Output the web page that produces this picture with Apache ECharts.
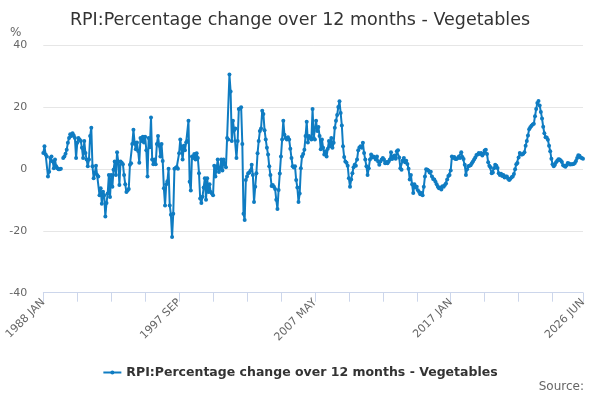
<!DOCTYPE html>
<html>
<head>
    <meta charset="utf-8">
    <title>RPI Vegetables</title>
    <script src="https://cdn.jsdelivr.net/npm/echarts/dist/echarts.min.js"></script>
</head>
<body style="margin:0">
    <div id="chart" style="width: 600px; height: 400px;"></div>

    <script type="text/javascript">
        // monthly values, 1988 JAN .. 2026 JUN
        var y1988 = [5.1, 7.3, 4.6, 4.0, -2.5, -0.9, 3.5, 4.0, 2.4, 0.2, 3.0, 0.8];
        var y1989 = [0.2, -0.1, -0.1, 0.0, null, 3.5, 4.0, 4.9, 6.2, 8.4, 10.0, 11.2];
        var y1990 = [10.6, 11.5, 10.8, 10.0, 3.5, 8.4, 10.0, 9.5, 9.0, 6.8, 3.5, 9.0];
        var y1991 = [5.1, 3.0, 0.8, 3.0, 10.6, 13.3, 0.8, -3.0, -1.4, 1.0, -2.0, -2.5];
        var y1992 = [-8.5, -6.3, -11.3, -7.4, -8.5, -15.4, -11.0, -8.0, -2.0, -9.1, -2.0, -5.8];
        var y1993 = [-0.3, 2.4, -2.0, 5.4, 2.4, -5.2, 2.4, 2.0, 1.5, -2.0, -5.0, -7.5];
        var y1994 = [-7.0, -6.5, 1.3, 1.8, 8.0, 12.6, 8.4, 6.3, 8.5, 5.8, 2.0, 10.0];
        var y1995 = [9.0, 10.4, 8.5, 10.4, 6.0, -2.5, 10.0, 7.0, 16.6, 3.0, 1.5, 3.0];
        var y1996 = [1.5, 8.0, 10.6, 7.5, 4.0, 8.0, 2.5, -6.3, -11.8, -5.0, -4.0, 0.0];
        var y1997 = [-11.8, -14.8, -22.0, -14.5, 0.0, 0.3, 0.6, 0.0, 5.0, 9.5, 6.5, 3.0];
        var y1998 = [7.5, 6.0, 8.5, 9.0, 15.5, -4.2, -7.0, 4.0, 3.5, 4.8, 3.0, 5.0];
        var y1999 = [3.5, -1.4, -9.6, -11.0, -9.0, -6.0, -3.0, -10.0, -3.0, -7.5, -5.0, -7.5];
        var y2000 = [-8.0, -8.5, 1.0, -2.5, 0.0, 3.0, -1.0, 0.0, 3.0, -0.5, 3.0, 1.5];
        var y2001 = [0.5, 10.0, 9.5, 30.5, 25.0, 9.0, 15.5, 12.5, 13.0, 3.5, 9.0, 19.3];
        var y2002 = [19.5, 19.9, 8.0, -14.5, -16.5, -3.6, -2.5, -1.4, -1.2, -0.5, 1.3, -2.0];
        var y2003 = [-10.7, -5.8, -1.4, 5.0, 9.0, 12.2, 13.0, 18.8, 17.7, 12.5, 9.5, 6.8];
        var y2004 = [4.6, 0.8, -2.0, -5.5, -5.2, -5.8, -6.5, -10.0, -13.0, -6.8, -1.5, 4.0];
        var y2005 = [9.5, 15.5, 11.0, 10.0, 9.5, 10.2, 9.5, 6.5, 3.5, 0.8, 0.4, 0.8];
        var y2006 = [-3.6, -6.0, -10.7, -8.0, 0.2, 4.0, 4.8, 6.2, 10.6, 15.2, 8.5, 10.6];
        var y2007 = [10.0, 9.5, 19.3, 10.0, 9.5, 15.5, 12.2, 13.5, 10.6, 6.3, 9.5, 6.8];
        var y2008 = [4.6, 5.7, 4.0, 6.5, 9.0, 7.3, 10.0, 6.8, 8.4, 13.3, 15.5, 17.4];
        var y2009 = [20.0, 21.8, 18.0, 14.0, 7.3, 3.8, 2.4, 2.0, 1.0, -3.0, -5.8, -3.4];
        var y2010 = [-1.4, 0.5, 1.3, 1.0, 3.0, 6.0, 6.9, 7.3, 6.8, 8.4, 5.1, 3.0];
        var y2011 = [0.8, -2.0, 0.2, 3.0, 4.6, 3.7, 4.0, 3.7, 3.0, 4.0, 2.4, 1.3];
        var y2012 = [2.4, 3.0, 3.5, 3.0, 1.8, 2.2, 1.8, 2.4, 3.0, 5.4, 3.2, 4.0];
        var y2013 = [4.3, 3.3, 5.7, 6.0, 3.7, 0.2, -0.3, 2.7, 3.5, 2.1, 2.6, 1.6];
        var y2014 = [0.0, -3.4, -2.0, -5.0, -7.8, -5.0, -6.0, -5.8, -6.9, -7.5, -8.2, -7.8];
        var y2015 = [-8.5, -5.8, -2.5, -0.1, -0.3, -0.5, -1.2, -0.9, -2.5, -3.3, -3.4, -4.2];
        var y2016 = [-5.0, -5.8, -6.3, -6.0, -6.7, -5.6, -5.8, -5.2, -4.7, -3.4, -2.3, -2.0];
        var y2017 = [-0.5, 4.0, 3.5, 3.8, 3.2, 3.2, 3.5, 4.0, 3.5, 5.4, 3.8, 3.2];
        var y2018 = [1.3, -2.0, -0.1, 0.8, 1.0, 1.2, 1.8, 2.4, 3.0, 3.7, 4.5, 4.6];
        var y2019 = [5.1, 4.8, 5.1, 4.3, 4.9, 5.9, 6.2, 4.8, 2.1, 1.0, 0.5, -1.4];
        var y2020 = [-1.2, 0.2, 1.3, 1.0, 0.3, -1.4, -2.0, -1.6, -2.3, -2.0, -2.8, -2.5];
        var y2021 = [-2.5, -3.2, -3.6, -3.2, -2.7, -2.5, -1.7, -0.1, 1.5, 1.9, 3.7, 5.1];
        var y2022 = [4.6, 4.6, 4.9, 5.4, 7.5, 9.0, 10.8, 12.8, 13.4, 13.9, 14.3, 14.6];
        var y2023 = [17.0, 19.3, 21.3, 21.9, 20.5, 18.4, 16.3, 13.6, 11.5, 10.2, 10.1, 9.4];
        var y2024 = [7.5, 5.7, 3.3, 1.5, 0.8, 1.3, 2.1, 2.6, 3.1, 3.0, 2.7, 2.2];
        var y2025 = [1.2, 0.9, 0.7, 1.2, 1.9, 1.7, 1.4, 1.5, 1.5, 1.6, 1.9, 2.5];
        var y2026 = [3.5, 4.4, 4.2, 3.7, 3.5, 3.3];

        var monthNames = ['JAN', 'FEB', 'MAR', 'APR', 'MAY', 'JUN', 'JUL', 'AUG', 'SEP', 'OCT', 'NOV', 'DEC'];
        var seriesName = 'RPI:Percentage change over 12 months - Vegetables';

        var values = [].concat(y1988, y1989, y1990, y1991, y1992, y1993, y1994, y1995, y1996, y1997,
            y1998, y1999, y2000, y2001, y2002, y2003, y2004, y2005, y2006, y2007,
            y2008, y2009, y2010, y2011, y2012, y2013, y2014, y2015, y2016, y2017,
            y2018, y2019, y2020, y2021, y2022, y2023, y2024, y2025, y2026);

        // category labels "1988 JAN" ...
        var months = [];
        for (var i = 0; i < values.length; i++) {
            months.push((1988 + Math.floor(i / 12)) + ' ' + monthNames[i % 12]);
        }
        var last = months.length - 1;

        var chart = echarts.init(document.getElementById('chart'));

        var option = {
            textStyle: { fontFamily: 'DejaVu Sans' },
            title: [
                {
                    text: seriesName,
                    left: 'center',
                    top: 6,
                    textStyle: { fontSize: 17.5, fontWeight: 'normal', color: '#333', fontFamily: 'DejaVu Sans' }
                },
                {
                    text: 'Source:',
                    right: 11,
                    bottom: 2,
                    textStyle: { fontSize: 12, fontWeight: 'normal', color: '#666', fontFamily: 'DejaVu Sans' }
                }
            ],
            legend: {
                data: [seriesName],
                bottom: 16,
                left: 'center',
                itemWidth: 18,
                itemHeight: 5,
                textStyle: { fontSize: 12.5, fontWeight: 'bold', color: '#333', fontFamily: 'DejaVu Sans' }
            },
            grid: { left: 43.3, right: 17, top: 45, bottom: 107.3 },
            xAxis: {
                type: 'category',
                data: months,
                boundaryGap: false,
                axisLine: { onZero: false, lineStyle: { color: '#ccd6eb' } },
                axisTick: {
                    length: 9,
                    lineStyle: { color: '#ccd6eb' },
                    interval: function (idx) { return idx % 29 === 0 || idx === last; }
                },
                axisLabel: {
                    rotate: 45,
                    fontSize: 11,
                    color: '#666',
                    interval: function (idx) { return idx % 116 === 0 || idx === last; }
                }
            },
            yAxis: {
                type: 'value',
                name: '%',
                nameLocation: 'end',
                nameGap: 6,
                nameTextStyle: { color: '#666', fontSize: 12, align: 'right', padding: [0, 22, 0, 0] },
                min: -40,
                max: 40,
                interval: 20,
                axisLine: { show: false },
                axisTick: { show: false },
                axisLabel: { fontSize: 11, color: '#666', margin: 16 },
                splitLine: { lineStyle: { color: '#e6e6e6' } }
            },
            series: [
                {
                    name: seriesName,
                    type: 'line',
                    data: values,
                    color: '#0f7cc2',
                    symbol: 'circle',
                    symbolSize: 4,
                    showAllSymbol: true,
                    lineStyle: { width: 2 },
                    animation: false
                }
            ]
        };

        chart.setOption(option);
    </script>
</body>
</html>
